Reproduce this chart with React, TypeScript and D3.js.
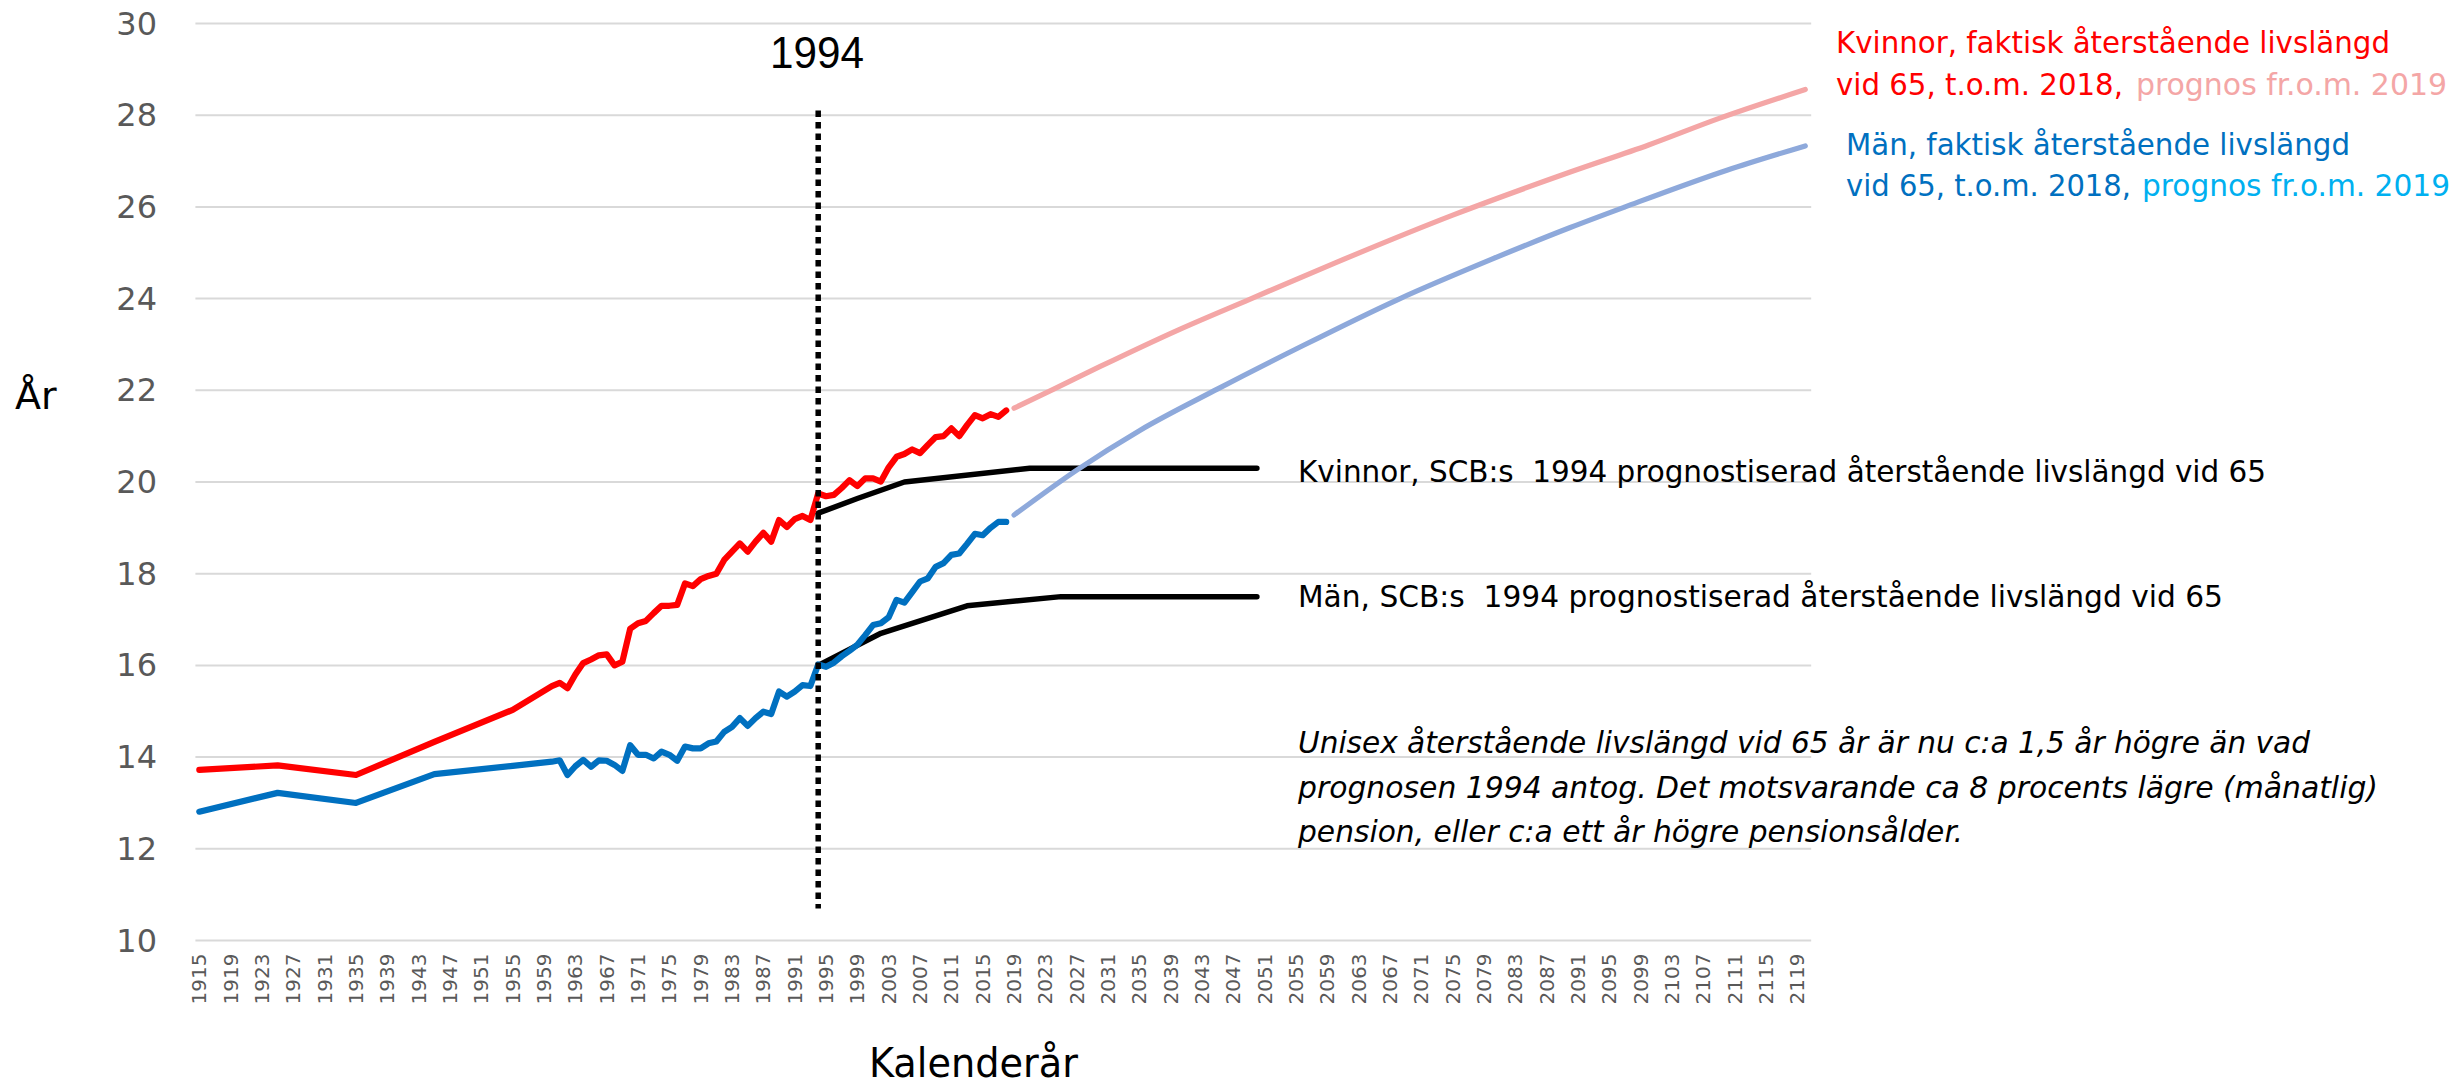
import React from 'react';
import * as d3 from 'd3';

// ---------- data ----------
const FIRST_YEAR = 1915;
const LAST_YEAR = 2120;
const categories: number[] = d3.range(FIRST_YEAR, LAST_YEAR + 1);
const tickYears: number[] = categories.filter((yr) => (yr - FIRST_YEAR) % 4 === 0);
const yTicks = [10, 12, 14, 16, 18, 20, 22, 24, 26, 28, 30];

const actualYears = [
  1915, 1925, 1935, 1945, 1955,
  1960, 1961, 1962, 1963, 1964, 1965, 1966, 1967, 1968, 1969,
  1970, 1971, 1972, 1973, 1974, 1975, 1976, 1977, 1978, 1979,
  1980, 1981, 1982, 1983, 1984, 1985, 1986, 1987, 1988, 1989,
  1990, 1991, 1992, 1993, 1994, 1995, 1996, 1997, 1998, 1999,
  2000, 2001, 2002, 2003, 2004, 2005, 2006, 2007, 2008, 2009,
  2010, 2011, 2012, 2013, 2014, 2015, 2016, 2017, 2018,
];
const womenActual = [
  13.72, 13.82, 13.61, 14.33, 15.03,
  15.55, 15.62, 15.5, 15.8, 16.05, 16.13, 16.22, 16.24, 16.0, 16.08,
  16.8, 16.92, 16.97, 17.14, 17.3, 17.3, 17.32, 17.79, 17.73, 17.88,
  17.95, 18.0, 18.3, 18.48, 18.66, 18.48, 18.7, 18.89, 18.7, 19.17,
  19.02, 19.19, 19.26, 19.17, 19.75, 19.69, 19.72, 19.87, 20.04, 19.91,
  20.08, 20.08, 20.01, 20.32, 20.55, 20.61, 20.71, 20.63, 20.81, 20.98,
  21.0, 21.17, 21.0, 21.24, 21.46, 21.39, 21.48, 21.42, 21.56,
];
const menActual = [
  12.81, 13.22, 13.0, 13.63, 13.81,
  13.9, 13.93, 13.61, 13.8, 13.94, 13.79, 13.93, 13.92, 13.83, 13.7,
  14.26, 14.05, 14.05, 13.97, 14.12, 14.05, 13.92, 14.23, 14.19, 14.19,
  14.3, 14.34, 14.55, 14.66, 14.85, 14.68, 14.85, 14.99, 14.94, 15.43,
  15.32, 15.43, 15.57, 15.55, 16.02, 15.97, 16.06, 16.2, 16.32, 16.45,
  16.66, 16.88, 16.92, 17.05, 17.43, 17.37, 17.6, 17.83, 17.9, 18.15,
  18.23, 18.41, 18.44, 18.65, 18.87, 18.84, 19.0, 19.13, 19.13,
];

const womenForecastYears = [2019, 2024, 2030, 2040, 2049, 2060, 2075, 2090, 2100, 2109, 2120];
const womenForecast = [21.61, 22.02, 22.52, 23.32, 23.98, 24.78, 25.82, 26.76, 27.35, 27.93, 28.56];
const menForecastYears = [2019, 2027, 2035, 2045, 2055, 2068, 2080, 2090, 2097, 2110, 2120];
const menForecast = [19.28, 20.26, 21.12, 22.03, 22.9, 23.98, 24.86, 25.55, 26.0, 26.8, 27.33];

const scbWomenYears = [1994, 1999, 2005, 2021, 2050];
const scbWomen = [19.32, 19.64, 20.0, 20.3, 20.3];
const scbMenYears = [1994, 2002, 2013, 2025, 2050];
const scbMen = [16.0, 16.7, 17.3, 17.5, 17.5];

const markerYear = 1994;
const markerTop = 28.1;
const markerBottom = 10.7;

// ---------- layout / style ----------
const W = 2458;
const H = 1088;
const PLOT_L = 195.4;
const PLOT_R = 1809.2;
const PLOT_TOP = 23.5;
const PLOT_BOTTOM = 940.5;

const RED = '#FF0000';
const BLUE = '#0070C0';
const PINK = '#F4A6A6';
const LIGHTBLUE = '#8EA9DB';
const CYAN = '#00B0F0';
const GRID = '#D9D9D9';
const TICK = '#595959';
const NARROW = "'Liberation Sans Narrow', 'DejaVu Sans Condensed', 'Liberation Sans', Arial, sans-serif";
const WIDE = "'DejaVu Sans', Verdana, sans-serif";

const zip = (xs: number[], ys: number[]): [number, number][] => xs.map((v, i) => [v, ys[i]]);

export default function App() {
  const x = d3.scalePoint<number>().domain(categories).range([PLOT_L, PLOT_R]).padding(0.5);
  const y = d3.scaleLinear().domain([10, 30]).range([PLOT_BOTTOM, PLOT_TOP]);

  const lin = d3.line<[number, number]>().x((d) => x(d[0]) as number).y((d) => y(d[1]));
  const smooth = d3
    .line<[number, number]>()
    .x((d) => x(d[0]) as number)
    .y((d) => y(d[1]))
    .curve(d3.curveMonotoneX);

  const mx = x(markerYear) as number;

  const txt = (
    s: string,
    xx: number,
    yy: number,
    len: number,
    fill: string,
    size = 31,
    italic = false
  ) => (
    <text
      x={xx}
      y={yy}
      fill={fill}
      fontFamily={NARROW}
      fontSize={size}
      fontStyle={italic ? 'italic' : 'normal'}
      textLength={len}
      lengthAdjust="spacingAndGlyphs"
      style={{ whiteSpace: 'pre' }}
    >
      {s}
    </text>
  );

  return (
    <svg
      width={W}
      height={H}
      viewBox={`0 0 ${W} ${H}`}
      style={{ position: 'absolute', left: 0, top: 0, background: '#fff' }}
    >
      <rect x={0} y={0} width={W} height={H} fill="#fff" />
      {/* gridlines */}
      {yTicks.map((v) => (
        <line key={'g' + v} x1={PLOT_L} x2={PLOT_R + 2} y1={y(v)} y2={y(v)} stroke={GRID} strokeWidth={2} />
      ))}
      {/* y tick labels */}
      {yTicks.map((v) => (
        <text
          key={'yl' + v}
          x={157}
          y={y(v)}
          textAnchor="end"
          dominantBaseline="central"
          fontFamily={WIDE}
          fontSize={32}
          fill={TICK}
        >
          {v}
        </text>
      ))}
      {/* x tick labels */}
      {tickYears.map((yr) => (
        <text
          key={'xl' + yr}
          transform={`translate(${x(yr)},${PLOT_BOTTOM + 13}) rotate(-90)`}
          textAnchor="end"
          dominantBaseline="central"
          fontFamily={WIDE}
          fontSize={20}
          fill={TICK}
        >
          {yr}
        </text>
      ))}
      {/* axis titles */}
      <text x={15} y={409} fontFamily={WIDE} fontSize={38} fill="#000">
        År
      </text>
      <text
        x={869}
        y={1077}
        fontFamily={NARROW}
        fontSize={41}
        fill="#000"
        textLength={209}
        lengthAdjust="spacingAndGlyphs"
      >
        Kalenderår
      </text>

      {/* SCB 1994 forecasts */}
      <path d={lin(zip(scbWomenYears, scbWomen)) || ''} fill="none" stroke="#000" strokeWidth={5.5} strokeLinecap="round" strokeLinejoin="round" />
      <path d={lin(zip(scbMenYears, scbMen)) || ''} fill="none" stroke="#000" strokeWidth={5.5} strokeLinecap="round" strokeLinejoin="round" />

      {/* actuals */}
      <path d={lin(zip(actualYears, womenActual)) || ''} fill="none" stroke={RED} strokeWidth={6.2} strokeLinecap="round" strokeLinejoin="round" />
      <path d={lin(zip(actualYears, menActual)) || ''} fill="none" stroke={BLUE} strokeWidth={6.2} strokeLinecap="round" strokeLinejoin="round" />

      {/* new forecasts */}
      <path d={smooth(zip(womenForecastYears, womenForecast)) || ''} fill="none" stroke={PINK} strokeWidth={5.2} strokeLinecap="round" strokeLinejoin="round" />
      <path d={smooth(zip(menForecastYears, menForecast)) || ''} fill="none" stroke={LIGHTBLUE} strokeWidth={5.2} strokeLinecap="round" strokeLinejoin="round" />

      {/* 1994 marker */}
      <line x1={mx} x2={mx} y1={y(markerTop)} y2={y(markerBottom)} stroke="#000" strokeWidth={5.5} strokeDasharray="6.5 5" />
      <text x={770} y={68} fontFamily="'Liberation Sans', Arial, sans-serif" fontSize={44} fill="#000" textLength={94} lengthAdjust="spacingAndGlyphs">
        1994
      </text>

      {/* legend texts top right */}
      {txt('Kvinnor, faktisk återstående livslängd', 1836, 53, 554, RED)}
      {txt('vid 65, t.o.m. 2018,', 1836, 95, 287, RED)}
      {txt('prognos fr.o.m. 2019', 2136, 95, 311, PINK)}
      {txt('Män, faktisk återstående livslängd', 1846, 155, 504, BLUE)}
      {txt('vid 65, t.o.m. 2018,', 1846, 196, 285, BLUE)}
      {txt('prognos fr.o.m. 2019', 2142, 196, 308, CYAN)}

      {/* SCB labels */}
      {txt('Kvinnor, SCB:s  1994 prognostiserad återstående livslängd vid 65', 1298, 481.5, 968, '#000')}
      {txt('Män, SCB:s  1994 prognostiserad återstående livslängd vid 65', 1298, 606.5, 925, '#000')}

      {/* note */}
      {txt('Unisex återstående livslängd vid 65 år är nu c:a 1,5 år högre än vad', 1298, 753, 1012, '#000', 31, true)}
      {txt('prognosen 1994 antog. Det motsvarande ca 8 procents lägre (månatlig)', 1298, 797.5, 1080, '#000', 31, true)}
      {txt('pension, eller c:a ett år högre pensionsålder.', 1298, 842, 665, '#000', 31, true)}
    </svg>
  );
}
